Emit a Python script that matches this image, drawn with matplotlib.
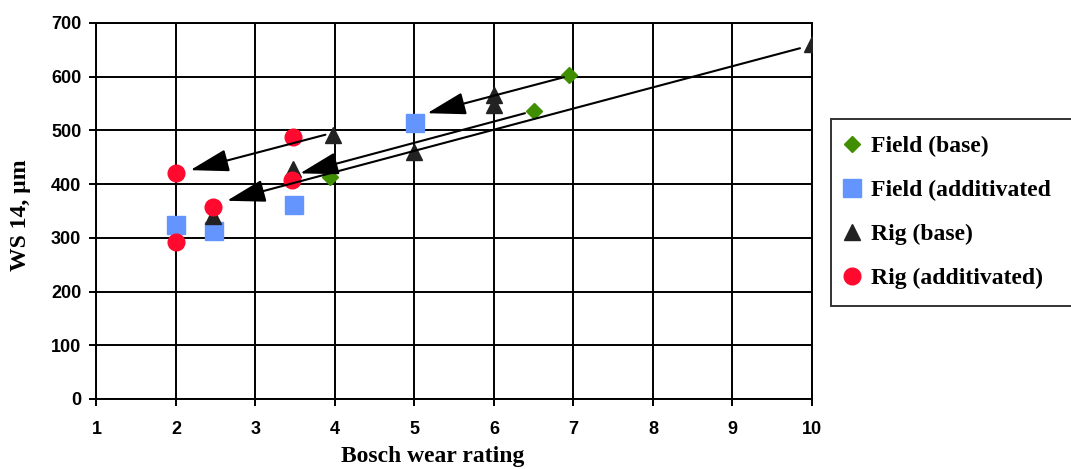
import matplotlib.pyplot as plt

# wear scar (WS 1.4) against Bosch wear rating
field_base_x = [6.95, 6.5, 3.94]
field_base_y = [603, 537, 414]

field_add_x = [2.0, 2.48, 3.49, 5.01]
field_add_y = [323, 313, 361, 513]

rig_base_x = [3.97, 3.47, 2.47, 5.0, 6.0, 6.0, 10.0]
rig_base_y = [492, 429, 341, 460, 566, 547, 661]

rig_add_x = [2.0, 2.0, 2.47, 3.47, 3.46]
rig_add_y = [420, 292, 358, 488, 408]

# arrows from base fuel to additivated fuel: (tail x, tail y, tip x, tip y)
arrows = [
    (6.88, 599, 5.16, 532),
    (6.39, 532, 3.56, 420),
    (9.85, 653, 2.64, 369),
    (3.88, 492, 2.18, 426),
]

x_ticks = [1, 2, 3, 4, 5, 6, 7, 8, 9, 10]
y_ticks = [0, 100, 200, 300, 400, 500, 600, 700]

fig = plt.figure(figsize=(10.71, 4.69), dpi=100)
ax = fig.add_axes([0.0901, 0.1493, 0.668, 0.8017])

ax.plot(field_base_x, field_base_y, ls='none', marker='D', ms=8, color='#3f8f00',
        label='Field (base)', zorder=4)
ax.plot(field_add_x, field_add_y, ls='none', marker='s', ms=13, color='#6495ff',
        label='Field (additivated', zorder=4)
ax.plot(rig_base_x, rig_base_y, ls='none', marker='^', ms=11.5, color='#222222',
        label='Rig (base)', zorder=4)
ax.plot(rig_add_x, rig_add_y, ls='none', marker='o', ms=12, color='#ff0a2e',
        label='Rig (additivated)', zorder=4)

for x0, y0, x1, y1 in arrows:
    ax.annotate('', xy=(x1, y1), xytext=(x0, y0),
                arrowprops=dict(arrowstyle='-|>,head_length=24,head_width=7',
                                mutation_scale=1, color='black', lw=1.5,
                                shrinkA=0, shrinkB=0), zorder=5)

ax.set_xlim(1, 10)
ax.set_ylim(0, 700)
ax.set_xticks(x_ticks)
ax.set_yticks(y_ticks)
ax.grid(True, color='black', lw=1.4)
ax.set_axisbelow(True)
for s in ax.spines.values():
    s.set_linewidth(1.4)

ax.tick_params(axis='both', direction='out', length=5, width=1.4, color='black')
ax.tick_params(axis='x', pad=11)
ax.tick_params(axis='y', pad=6)
for lab in ax.get_xticklabels() + ax.get_yticklabels():
    lab.set_fontfamily('Liberation Sans')
    lab.set_fontweight('bold')
    lab.set_fontsize(13)

ax.set_xlabel('Bosch wear rating', fontfamily='Liberation Serif', fontweight='bold', fontsize=17)
ax.set_ylabel('WS 14, µm', fontfamily='Liberation Serif', fontweight='bold', fontsize=17)
ax.xaxis.set_label_coords(0.47, -0.124)
ax.yaxis.set_label_coords(-0.106, 0.489)
ax.yaxis.label.set_va('center')

leg = fig.legend(loc='upper left', bbox_to_anchor=(0.776, 0.354, 0.25, 0.392), mode='expand',
                 prop={'family': 'Liberation Serif', 'weight': 'bold', 'size': 17},
                 frameon=True, fancybox=False, borderaxespad=0, labelspacing=0.95,
                 handlelength=0.4, handletextpad=0.6, borderpad=0.7)
leg.get_frame().set_edgecolor('black')
leg.get_frame().set_linewidth(1.4)

fig.savefig('out.png', dpi=100)
